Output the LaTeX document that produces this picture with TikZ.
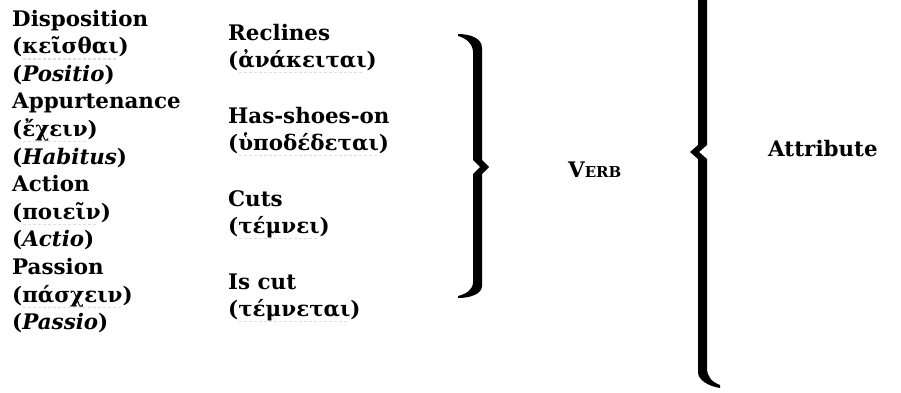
\documentclass[tikz,border=0pt]{standalone}
\usepackage{fontspec}
\setmainfont{DejaVu Serif}
\usepackage{tikz}

\newsavebox\grbox
% faint dashed underline under the Greek words
\newcommand\grul[1]{\sbox\grbox{#1}\rlap{\color{black!13}\leaders\hbox to 5pt{\hss\vrule height -4.5pt depth 6pt width 3pt\hss}\hskip\wd\grbox}\usebox\grbox}

\tikzset{
  lbl/.style={anchor=base west, inner sep=0pt, font=\fontsize{21.4}{26}\selectfont\bfseries},
  bracefill/.style={fill=black}
}

\begin{document}
\begin{tikzpicture}[x=1pt,y=-1pt]
	\useasboundingbox (0,0) rectangle (901,392);
	% categories
	\node[lbl] (disp) at (12,26) {Disposition};
	\node[lbl] (dispgr) at (12,53.6) {(\grul{κεῖσθαι})};
	\node[lbl] (displa) at (12,81.2) {(\textit{Positio})};
	\node[lbl] (appu) at (12,108.8) {Appurtenance};
	\node[lbl] (appugr) at (12,136.4) {(\grul{ἔχειν})};
	\node[lbl] (appula) at (12,164) {(\textit{Habitus})};
	\node[lbl] (acti) at (12,191.6) {Action};
	\node[lbl] (actigr) at (12,219.2) {(\grul{ποιεῖν})};
	\node[lbl] (actila) at (12,246.8) {(\textit{Actio})};
	\node[lbl] (pass) at (12,274.4) {Passion};
	\node[lbl] (passgr) at (12,302) {(\grul{πάσχειν})};
	\node[lbl] (passla) at (12,329.6) {(\textit{Passio})};
	% verbs
	\node[lbl] (recl) at (228,40) {Reclines};
	\node[lbl] (reclgr) at (228,67) {(\grul{ἀνάκειται})};
	\node[lbl] (shoe) at (228,123) {Has-shoes-on};
	\node[lbl] (shoegr) at (228,150) {(\grul{ὑποδέδεται})};
	\node[lbl] (cuts) at (228,206) {Cuts};
	\node[lbl] (cutsgr) at (228,233) {(\grul{τέμνει})};
	\node[lbl] (iscut) at (228,289) {Is cut};
	\node[lbl] (iscutgr) at (228,316) {(\grul{τέμνεται})};
	% braces
	\fill[bracefill] (458,34) .. controls (470,34) and (482,38) .. (482,48) -- (482,160) -- (489,167) -- (482,174)
		-- (482,286) .. controls (482,294) and (470,298) .. (458,298) -- (458,296)
		.. controls (466,294) and (473,290) .. (473,282) -- (473,174) -- (480,167) -- (473,160)
		-- (473,52) .. controls (473,44) and (466,38) .. (458,36) -- cycle;
	\node[lbl] (verb) at (568,177) {V{\fontsize{15}{18}\selectfont ERB}};
	\fill[bracefill] (698,0) -- (698,145) -- (690,152) -- (698,159) -- (698,372)
		.. controls (698,380) and (708,386) .. (720,388) -- (720,385)
		.. controls (712,382) and (707,377) .. (707,368) -- (707,159) -- (699,152) -- (707,145) -- (707,0) -- cycle;
	\node[lbl] (attr) at (768,156) {Attribute};
\end{tikzpicture}
\end{document}
